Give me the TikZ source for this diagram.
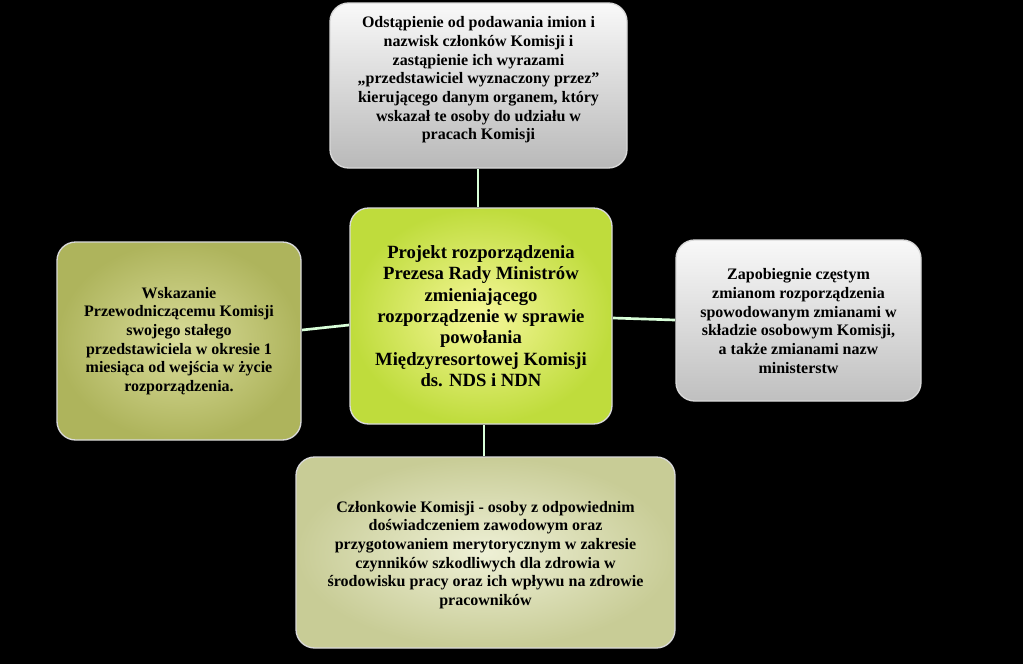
\documentclass[tikz,border=0pt]{standalone}
\usepackage{fontspec}
\setmainfont{Liberation Serif}
\definecolor{cin}{HTML}{F6F79A}
\definecolor{cout}{HTML}{BFDC3C}
\definecolor{lin}{HTML}{D9DC9A}
\definecolor{lout}{HTML}{AEB45C}
\definecolor{bin}{HTML}{EEF0D6}
\definecolor{bout}{HTML}{C8CC96}
\begin{document}
\begin{tikzpicture}[x=0.75pt,y=-0.75pt,
  conn/.style={draw=white!85!green, line width=2pt},
  txt/.style={align=center,font=\bfseries\fontsize{12}{14}\selectfont}]
\fill[black] (0,0) rectangle (1023,664);
\useasboundingbox (0,0) rectangle (1023,664);
\shade[rounded corners=14pt, top color=white!95!gray, bottom color=gray!55, draw=white!70!gray, line width=1pt] (330,3) rectangle (627,168);
\shade[rounded corners=14pt, inner color=cin, outer color=cout, draw=white!70!gray, line width=1pt] (350,208) rectangle (612,424);
\shade[rounded corners=14pt, inner color=lin, outer color=lout, draw=white!70!gray, line width=1pt] (57,242) rectangle (301,440);
\shade[rounded corners=14pt, top color=white!95!gray, bottom color=gray!50, draw=white!70!gray, line width=1pt] (676,240) rectangle (921,401);
\shade[rounded corners=14pt, inner color=bin, outer color=bout, draw=white!70!gray, line width=1pt] (296,457) rectangle (675,648);
\node[txt] (top) at (478.5,80) {Odstąpienie od podawania imion i\\nazwisk członków Komisji i\\zastąpienie ich wyrazami\\„przedstawiciel wyznaczony przez”\\kierującego danym organem, który\\wskazał te osoby do udziału w\\pracach Komisji};
\node[align=center,font=\bfseries\fontsize{14}{16}\selectfont] (c) at (481,316) {Projekt rozporządzenia\\Prezesa Rady Ministrów\\zmieniającego\\rozporządzenie w sprawie\\powołania\\Międzyresortowej Komisji\\ds. NDS i NDN};
\node[txt] (l) at (179,341) {Wskazanie\\Przewodniczącemu Komisji\\swojego stałego\\przedstawiciela w okresie 1\\miesiąca od wejścia w życie\\rozporządzenia.};
\node[txt] (r) at (798.5,321) {Zapobiegnie częstym\\zmianom rozporządzenia\\spowodowanym zmianami w\\składzie osobowym Komisji,\\a także zmianami nazw\\ministerstw};
\node[txt] (b) at (485.5,555) {Członkowie Komisji - osoby z odpowiednim\\doświadczeniem zawodowym oraz\\przygotowaniem merytorycznym w zakresie\\czynników szkodliwych dla zdrowia w\\środowisku pracy oraz ich wpływu na zdrowie\\pracowników};
\coordinate (t1) at (478,169); \coordinate (t2) at (478,207);
\coordinate (l1) at (302,330); \coordinate (l2) at (349,325);
\coordinate (r1) at (613,318); \coordinate (r2) at (675,320);
\coordinate (b1) at (484,425); \coordinate (b2) at (484,456);
\draw[conn] (t1) -- (t2); \draw[conn] (l1) -- (l2); \draw[conn] (r1) -- (r2); \draw[conn] (b1) -- (b2);
\end{tikzpicture}
\end{document}
